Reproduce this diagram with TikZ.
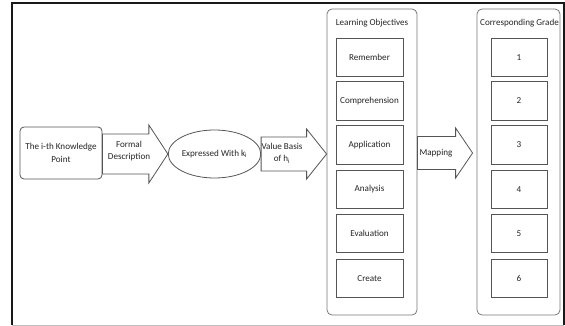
\documentclass[tikz,border=0pt]{standalone}
\usepackage{fontspec}
\setmainfont{Carlito}
\usetikzlibrary{shapes.geometric,calc}
\definecolor{edge}{RGB}{85,85,85}
\definecolor{pane}{RGB}{120,120,120}
\begin{document}
\begin{tikzpicture}[x=1pt,y=-1pt,
  font=\fontsize{9.1}{10.5}\selectfont, text=black!85, line join=miter,
  box/.style={draw=edge, line width=0.8pt, inner sep=0pt, minimum height=38.5pt},
  objbox/.style={box, minimum width=67pt},
  gradebox/.style={box, minimum width=56pt},
  panel/.style={draw=pane, line width=0.8pt, rounded corners=5pt, inner sep=0pt,
                minimum width=#1, minimum height=306pt},
  blockarrow/.style={draw=edge, line width=0.8pt, fill=white},
  lbl/.style={inner sep=0pt, align=center}]
\useasboundingbox (0,0) rectangle (565,326);
\fill[white] (0,0) rectangle (565,326);

% frame around the figure
\draw[black!90, line width=1.6pt] (12,325) -- (12,3) -- (564,3) -- (564,325);
\draw[black!25, line width=1pt] (12,325) -- (564,325);

% source concept
\node[box, rounded corners=4pt, minimum width=82pt, minimum height=52pt, align=center]
  (kp) at (61,153) {The i-th Knowledge\\[2pt]Point};
\node[ellipse, draw=edge, line width=0.8pt, minimum width=83pt, minimum height=48pt, inner sep=0pt]
  (ell) at (214.5,154) {Expressed With k\textsubscript{i}};

% learning objectives panel
\node[panel=90pt] (lo) at (372,162) {};
\node[lbl] (lot) at (372,23) {Learning Objectives};
\node[objbox] (o1) at (369.5,57.5)  {Remember};
\node[objbox] (o2) at (369.5,101)   {Comprehension};
\node[objbox] (o3) at (369.5,145)   {Application};
\node[objbox] (o4) at (369.5,189.5) {Analysis};
\node[objbox] (o5) at (369.5,233.5) {Evaluation};
\node[objbox] (o6) at (369.5,278.5) {Create};

% grade panel
\node[panel=83pt] (cg) at (518.5,162) {};
\node[lbl] (cgt) at (519.5,23) {Corresponding Grade};
\node[gradebox] (g1) at (519,57.5)  {1};
\node[gradebox] (g2) at (519,101)   {2};
\node[gradebox] (g3) at (519,145)   {3};
\node[gradebox] (g4) at (519,189.5) {4};
\node[gradebox] (g5) at (519,233.5) {5};
\node[gradebox] (g6) at (519,278.5) {6};

% block arrows between the stages
\coordinate (a1) at (kp.east |- ell.west);
\coordinate (a2) at (ell.east);
\coordinate (a3) at (lo.east |- 0,153);
\draw[blockarrow] let \p1=(a1), \p2=(ell.west) in
  (\x1,\y1+20pt) -- (\x2-19pt,\y1+20pt) -- (\x2-19pt,\y1+29pt) -- (\x2,\y1)
  -- (\x2-19pt,\y1-29pt) -- (\x2-19pt,\y1-20pt) -- (\x1,\y1-20pt) -- cycle;
\draw[blockarrow] let \p1=(a2), \p2=(lo.west) in
  (\x1,\y1+17pt) -- (\x2-20pt,\y1+17pt) -- (\x2-20pt,\y1+25pt) -- (\x2,\y1)
  -- (\x2-20pt,\y1-25pt) -- (\x2-20pt,\y1-17pt) -- (\x1,\y1-17pt) -- cycle;
\draw[blockarrow] let \p1=(a3), \p2=(cg.west) in
  (\x1,\y1+16.5pt) -- (\x2-21pt,\y1+16.5pt) -- (\x2-21pt,\y1+25pt) -- (\x2-4pt,\y1)
  -- (\x2-21pt,\y1-25pt) -- (\x2-21pt,\y1-16.5pt) -- (\x1,\y1-16.5pt) -- cycle;

% arrow captions
\node[lbl] (t1) at (129,151) {Formal\\[2pt]Description};
\node[lbl] (t2) at (282,153) {Value Basis\\[2pt]of h\textsubscript{i}};
\node[lbl] (t3) at (436,153) {Mapping};
\end{tikzpicture}
\end{document}
